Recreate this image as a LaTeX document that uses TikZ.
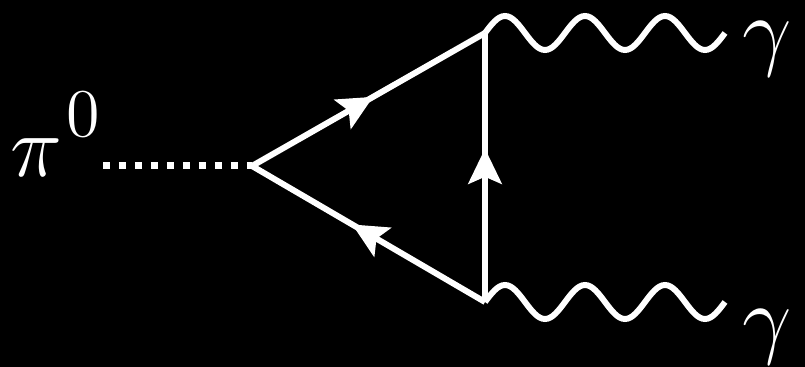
\documentclass[tikz,border=0pt]{standalone}
\usepackage{graphicx}
\usepackage{amsmath}
\usetikzlibrary{arrows.meta,decorations.markings}

\newcommand{\biglbl}[1]{\scalebox{2.41}{\huge #1}}

\begin{document}
\begin{tikzpicture}[x=0.02cm, y=-0.02cm,
    fermion/.style={draw=white, line width=3.4pt,
      postaction={decorate, decoration={markings,
        mark=at position #1 with {\arrow[white]{Stealth[length=20pt, width=19pt, inset=4pt]}}}}},
    fermion/.default=0.55,
    photon/.style={draw=white, line width=3.4pt},
    scalar/.style={draw=white, line width=0.14cm, dash pattern=on 0.14cm off 0.18cm},
    lbl/.style={text=white, inner sep=0pt, anchor=base west}
  ]
    \fill[black] (0,0) rectangle (805,367);
    \useasboundingbox (0,0) rectangle (805,367);

    % vertices
    \coordinate (v1) at (252,166);
    \coordinate (v2) at (485,33);
    \coordinate (v3) at (485,302);
    \coordinate (pin) at (103,166);

    \node[lbl] (pi) at (10,177) {\biglbl{$\pi^{\kern1pt\raisebox{2pt}{\scalebox{1.12}{$\scriptstyle 0$}}}$}};
    \node[lbl] (gam1) at (742,60) {\biglbl{$\gamma$}};
    \node[lbl] (gam2) at (742,348) {\biglbl{$\gamma$}};

    \draw[scalar] (pin) -- (v1);
    \draw[fermion=0.52] (v1) -- (v2);
    \draw[fermion=0.57] (v3) -- (v2);
    \draw[fermion=0.57] (v3) -- (v1);
    % photons: three periods of a sine wave
    \draw[photon] (v2) \foreach \k in {1,2,3} {
      sin ++(20,-17) cos ++(20,17) sin ++(20,17) cos ++(20,-17)} coordinate (g1);
    \draw[photon] (v3) \foreach \k in {1,2,3} {
      sin ++(20,-17) cos ++(20,17) sin ++(20,17) cos ++(20,-17)} coordinate (g2);
  \end{tikzpicture}
\end{document}
